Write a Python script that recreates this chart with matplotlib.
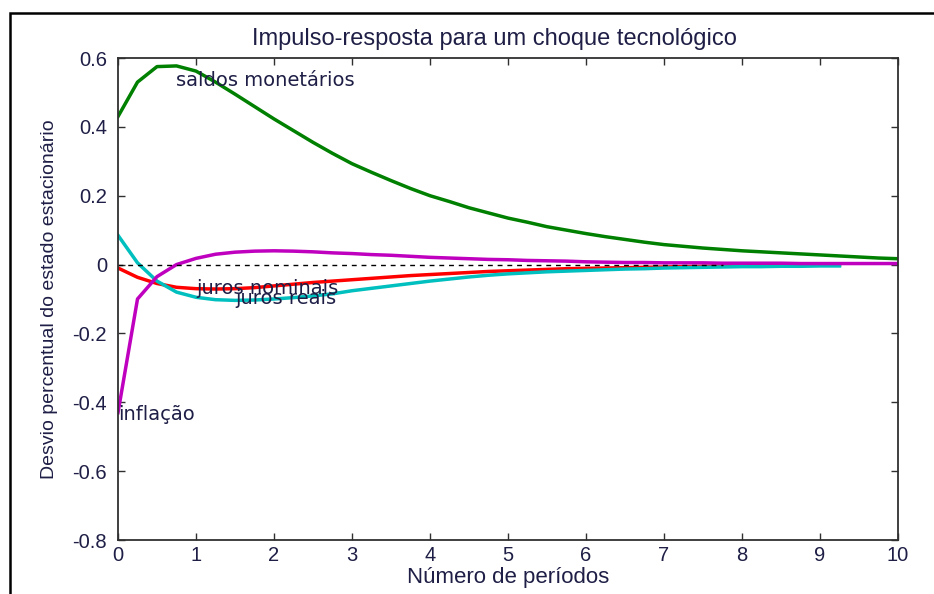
import numpy as np
import matplotlib
matplotlib.use("Agg")
import matplotlib.pyplot as plt
from matplotlib.patches import Rectangle

plt.rcParams['axes.unicode_minus'] = False
plt.rcParams['font.family'] = ['Liberation Sans', 'DejaVu Sans']

# quarterly grid, 0 to 10 periods
periodos = np.arange(0, 10.01, 0.25)

saldos_monetarios = [
    0.430, 0.530, 0.575, 0.577, 0.562, 0.530, 0.495, 0.459, 0.423, 0.389,
    0.355, 0.323, 0.293, 0.268, 0.244, 0.221, 0.200, 0.183, 0.165, 0.150,
    0.135, 0.123, 0.110, 0.100, 0.090, 0.081, 0.073, 0.065, 0.058, 0.053,
    0.048, 0.044, 0.040, 0.037, 0.034, 0.031, 0.028, 0.025, 0.022, 0.019,
    0.017,
]

inflacao = [
    -0.430, -0.100, -0.035, 0.000, 0.018, 0.030, 0.036, 0.039, 0.040, 0.039,
    0.037, 0.034, 0.032, 0.029, 0.027, 0.024, 0.021, 0.019, 0.017, 0.015,
    0.014, 0.012, 0.011, 0.010, 0.008, 0.007, 0.006, 0.006, 0.005, 0.005,
    0.005, 0.004, 0.004, 0.004, 0.004, 0.003, 0.003, 0.003, 0.003, 0.003,
    0.003,
]

# interest rate series stop at 9.25
juros_nominais = [
    -0.010, -0.037, -0.055, -0.066, -0.070, -0.071, -0.070, -0.067, -0.062, -0.057,
    -0.052, -0.048, -0.044, -0.040, -0.036, -0.032, -0.029, -0.026, -0.023, -0.020,
    -0.018, -0.016, -0.014, -0.012, -0.011, -0.010, -0.009, -0.008, -0.007, -0.006,
    -0.005, -0.004, -0.004, -0.003, -0.003, -0.002, -0.002, -0.001,
]

juros_reais = [
    0.085, 0.005, -0.048, -0.080, -0.095, -0.102, -0.104, -0.103, -0.100, -0.096,
    -0.091, -0.085, -0.076, -0.069, -0.062, -0.055, -0.048, -0.042, -0.036, -0.031,
    -0.027, -0.024, -0.021, -0.019, -0.017, -0.015, -0.013, -0.012, -0.010, -0.009,
    -0.008, -0.007, -0.006, -0.006, -0.005, -0.005, -0.004, -0.004,
]

# label anchors (period, value)
rotulos = [
    ("saldos monet\u00e1rios", 0.75, 0.52),
    ("juros nominais", 1.0, -0.085),
    ("juros reais", 1.5, -0.115),
    ("infla\u00e7\u00e3o", 0.0, -0.45),
]

text_color = '#1e1e46'

fig = plt.figure(figsize=(9.34, 5.94), dpi=100)
ax = fig.add_axes([118 / 934, 1 - 540 / 594, 780 / 934, 482 / 594])

t_juros = periodos[:len(juros_nominais)]
ax.plot(periodos, saldos_monetarios, color=(0, 0.5, 0), lw=2.5)
ax.plot(t_juros, juros_nominais, color=(1, 0, 0), lw=2.5)
ax.plot(t_juros, juros_reais, color=(0, 0.75, 0.75), lw=2.5)
ax.plot(periodos, inflacao, color=(0.75, 0, 0.75), lw=2.5)

# zero reference
t_zero = periodos[periodos <= 7.75]
ax.plot(t_zero, np.zeros_like(t_zero), color='black', lw=1.0,
        linestyle=(0, (3.5, 3.5)))

for txt, x, y in rotulos:
    ax.text(x, y, txt, fontsize=14, va='baseline', ha='left',
            color=text_color, family='DejaVu Sans')

ax.set_xlim(0, 10)
ax.set_ylim(-0.8, 0.6)
ax.set_xticks(np.arange(0, 11, 1))
yt = np.round(np.arange(-0.8, 0.61, 0.2), 1) + 0.0
ax.set_yticks(yt)
ax.set_yticklabels(['0' if abs(v) < 1e-9 else f'{v:g}' for v in yt])

ax.tick_params(direction='in', top=True, right=True, length=5, width=1,
               colors='#303030', labelcolor=text_color, labelsize=14.5)
ax.tick_params(axis='x', pad=4)
ax.tick_params(axis='y', pad=8)
for s in ax.spines.values():
    s.set_color('#303030')
    s.set_linewidth(1.3)

ax.set_title('Impulso-resposta para um choque tecnol\u00f3gico', fontsize=17,
             color=text_color, pad=9, x=0.483)
ax.set_xlabel('N\u00famero de per\u00edodos', fontsize=16, color=text_color,
              labelpad=2)
ax.set_ylabel('Desvio percentual do estado estacion\u00e1rio', fontsize=14,
              color=text_color, labelpad=10)

# outer frame
fig.add_artist(Rectangle((10 / 934, -0.1), 1.5, 1.1 - 13 / 594,
                         transform=fig.transFigure, fill=False,
                         ec='black', lw=1.8))

fig.savefig('out.png', dpi=100)
